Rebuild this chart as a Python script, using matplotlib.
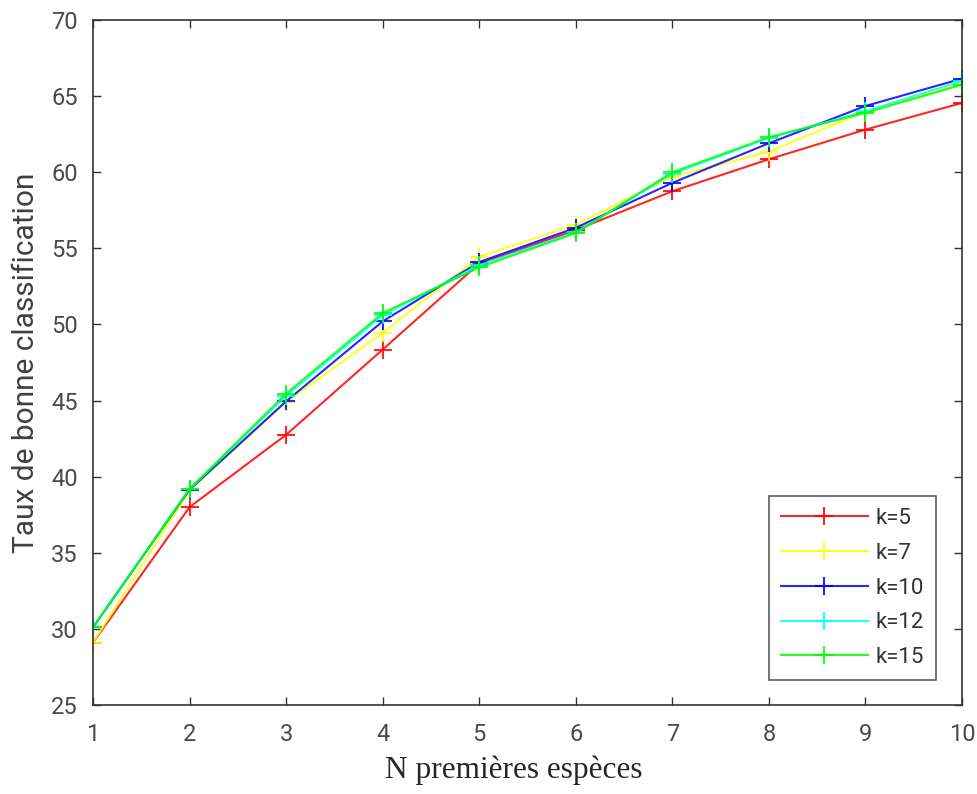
import matplotlib
matplotlib.use("Agg")
import matplotlib.pyplot as plt

x = [1, 2, 3, 4, 5, 6, 7, 8, 9, 10]
k5 = [29.1, 38.0, 42.75, 48.35, 54.0, 56.2, 58.75, 60.85, 62.8, 64.55]
k7 = [29.1, 39.1, 44.9, 49.45, 54.45, 56.55, 59.7, 61.35, 64.0, 65.8]
k10 = [30.1, 39.15, 44.95, 50.2, 54.1, 56.35, 59.3, 61.9, 64.35, 66.15]
k12 = [30.1, 39.2, 45.3, 50.6, 53.9, 56.05, 59.9, 62.25, 64.0, 66.0]
k15 = [30.1, 39.2, 45.45, 50.75, 53.75, 56.0, 60.0, 62.3, 63.9, 65.75]
labels = ["k=5", "k=7", "k=10", "k=12", "k=15"]
colors = ["#ff0000", "#ffff00", "#0000ff", "#00ffff", "#00ff00"]
yticks = [25, 30, 35, 40, 45, 50, 55, 60, 65, 70]

fig = plt.figure(figsize=(9.77, 7.94), dpi=100)
ax = fig.add_axes([0.0952, 0.1121, 0.8894, 0.8627])

for ys, lab, c in zip([k5, k7, k10, k12, k15], labels, colors):
    ax.plot(x, ys, color=c, marker="+", markersize=13, markeredgewidth=1.5,
            linewidth=1.5, label=lab, alpha=0.85)

ax.set_xlim(1, 10)
ax.set_ylim(25, 70)
ax.set_xticks(x)
ax.set_yticks(yticks)
tick_color = "#4a4a4a"
ax.tick_params(direction="in", length=6, width=1, colors="#333333",
               labelcolor=tick_color, labelsize=17, top=True, right=True)
ax.tick_params(axis="y", pad=11)
ax.tick_params(axis="x", pad=13)
for lbl in ax.get_xticklabels() + ax.get_yticklabels():
    lbl.set_family("Roboto")
for s in ax.spines.values():
    s.set_color("#333333")
    s.set_linewidth(1.2)

ax.set_xlabel("N premières espèces", fontsize=22.5, family="Liberation Serif",
              color="#262626")
ax.xaxis.set_label_coords(0.4845, -0.074)
ax.set_ylabel("Taux de bonne classification", fontsize=21.5, family="Roboto",
              color="#404040", labelpad=8)

leg = ax.legend(loc="lower right", bbox_to_anchor=(0.97, 0.036),
                prop={"family": "Roboto", "size": 16}, frameon=True,
                fancybox=False, handlelength=3.9, handletextpad=0.35,
                labelspacing=0.62, borderpad=0.55, borderaxespad=0)
leg.get_frame().set_edgecolor("#333333")
leg.get_frame().set_linewidth(1.2)
for t in leg.get_texts():
    t.set_color("#333333")

fig.savefig("out.png", dpi=100)
